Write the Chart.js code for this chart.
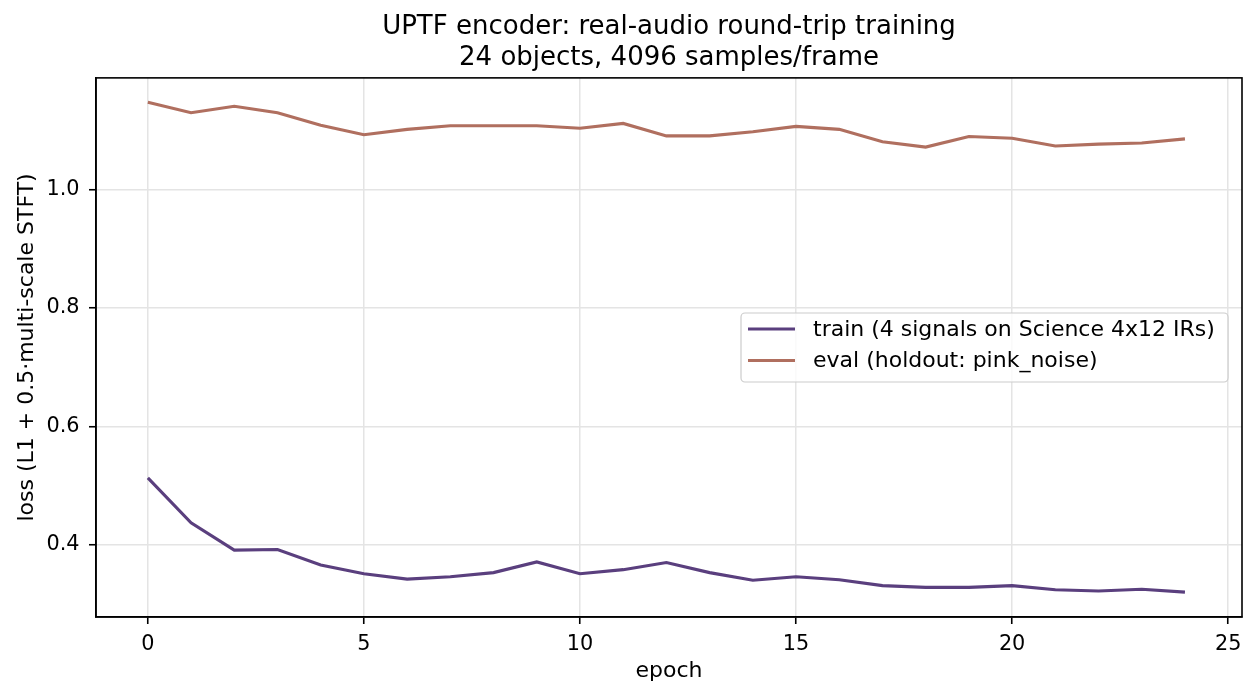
<!DOCTYPE html>
<html>
<head>
<meta charset="utf-8">
<script src="https://cdn.jsdelivr.net/npm/chart.js@4/dist/chart.umd.min.js"></script>
<style>
	html, body { margin: 0; padding: 0; background: #fff; }
	#wrap { width: 1260px; height: 697px; }
</style>
</head>
<body>
<div id="wrap"><canvas id="chart_loss"></canvas></div>
<script>
'use strict';

const epochs = [0, 1, 2, 3, 4, 5, 6, 7, 8, 9, 10, 11, 12, 13, 14, 15, 16, 17, 18, 19, 20, 21, 22, 23, 24];
const trainLoss = [0.513, 0.437, 0.391, 0.392, 0.366, 0.351, 0.342, 0.346, 0.353, 0.371, 0.351, 0.358, 0.370,
	0.353, 0.340, 0.346, 0.341, 0.331, 0.328, 0.328, 0.331, 0.324, 0.322, 0.325, 0.320];
const evalLoss = [1.148, 1.130, 1.141, 1.130, 1.109, 1.093, 1.102, 1.108, 1.108, 1.108, 1.104, 1.112, 1.091,
	1.091, 1.098, 1.107, 1.102, 1.081, 1.072, 1.090, 1.087, 1.074, 1.077, 1.079, 1.086];
const xTicks = [0, 5, 10, 15, 20, 25];
const yTicks = [0.4, 0.6, 0.8, 1.0];
const titleLines = ['UPTF encoder: real-audio round-trip training', '24 objects, 4096 samples/frame'];
const trainLabel = 'train (4 signals on Science 4x12 IRs)';
const evalLabel = 'eval (holdout: pink_noise)';

const COLORS = {
	train: '#5a3f7e',
	eval: '#b06f5f',
	grid: '#e4e4e4',
};
const FONT = 'DejaVu Sans';
const FS_TICK = 20.8;
const FS_LABEL = 22;

function toPoints(xs, ys) {
	return xs.map((x, i) => ({x: x, y: ys[i]}));
}

// frame on all four sides + legend box ('center right') inside the plot
const framePlugin = {
	id: 'frame',
	afterDraw(chart) {
		let ctx = chart.ctx,
			a = chart.chartArea;
		ctx.save();
		ctx.strokeStyle = '#000';
		ctx.lineWidth = 1.6;
		ctx.strokeRect(a.left, a.top, a.right - a.left, a.bottom - a.top);

		let w = 487, h = 69, r = 4,
			x0 = a.right - 14 - w,
			y0 = Math.round((a.top + a.bottom) / 2 - h / 2);
		ctx.beginPath();
		ctx.moveTo(x0 + r, y0);
		ctx.arcTo(x0 + w, y0, x0 + w, y0 + h, r);
		ctx.arcTo(x0 + w, y0 + h, x0, y0 + h, r);
		ctx.arcTo(x0, y0 + h, x0, y0, r);
		ctx.arcTo(x0, y0, x0 + w, y0, r);
		ctx.closePath();
		ctx.fillStyle = 'rgba(255,255,255,0.8)';
		ctx.fill();
		ctx.strokeStyle = '#cccccc';
		ctx.lineWidth = 1.2;
		ctx.stroke();

		ctx.font = FS_LABEL + 'px "' + FONT + '"';
		ctx.textBaseline = 'middle';
		ctx.fillStyle = '#000';
		chart.data.datasets.forEach((ds, i) => {
			let ly = y0 + 16 + i * 31.5;
			ctx.strokeStyle = ds.borderColor;
			ctx.lineWidth = 3;
			ctx.beginPath();
			ctx.moveTo(x0 + 7, ly);
			ctx.lineTo(x0 + 54, ly);
			ctx.stroke();
			ctx.fillText(ds.label, x0 + 72, ly + 1);
		});
		ctx.restore();
	},
};

const config = {
	type: 'line',
	data: {
		datasets: [{
			label: trainLabel,
			data: toPoints(epochs, trainLoss),
			borderColor: COLORS.train,
			backgroundColor: COLORS.train,
			borderWidth: 3.1,
			pointRadius: 0,
			tension: 0,
		}, {
			label: evalLabel,
			data: toPoints(epochs, evalLoss),
			borderColor: COLORS.eval,
			backgroundColor: COLORS.eval,
			borderWidth: 3.1,
			pointRadius: 0,
			tension: 0,
		}],
	},
	options: {
		responsive: true,
		maintainAspectRatio: false,
		animation: false,
		layout: {padding: {left: 0, right: 18, top: 0, bottom: 0}},
		plugins: {
			legend: {display: false},
			tooltip: {enabled: false},
			title: {
				display: true,
				fullSize: false,
				text: titleLines,
				color: '#000',
				font: {family: FONT, size: 26, weight: 'normal', lineHeight: 1.19},
				padding: {top: 11.5, bottom: 4.5},
			},
		},
		scales: {
			x: {
				type: 'linear',
				min: -1.2,
				max: 25.32,
				afterFit: scale => { scale.height = 80; },
				afterBuildTicks: scale => { scale.ticks = xTicks.map(v => ({value: v})); },
				ticks: {
					color: '#000',
					font: {family: FONT, size: FS_TICK},
					padding: 8,
					maxRotation: 0,
					callback: v => String(v),
				},
				grid: {color: COLORS.grid, tickColor: '#000', tickLength: 7, lineWidth: 1.5, tickWidth: 1.6},
				border: {color: '#000', width: 1.6},
				title: {
					display: true,
					text: 'epoch',
					color: '#000',
					font: {family: FONT, size: FS_LABEL, lineHeight: 1.2},
					padding: {top: 0, bottom: 13},
				},
			},
			y: {
				type: 'linear',
				min: 0.278,
				max: 1.189,
				afterFit: scale => { scale.width = 96; },
				afterBuildTicks: scale => { scale.ticks = yTicks.map(v => ({value: v})); },
				ticks: {
					color: '#000',
					font: {family: FONT, size: FS_TICK},
					padding: 9.5,
					callback: v => v.toFixed(1),
				},
				grid: {color: COLORS.grid, tickColor: '#000', tickLength: 7, lineWidth: 1.5, tickWidth: 1.6},
				border: {color: '#000', width: 1.6},
				title: {
					display: true,
					text: 'loss (L1 + 0.5·multi-scale STFT)',
					color: '#000',
					font: {family: FONT, size: FS_LABEL, lineHeight: 1.2},
					padding: {top: 14, bottom: 0},
				},
			},
		},
	},
	plugins: [framePlugin],
};

let ctx = document.getElementById('chart_loss').getContext('2d');
window.ChartLoss = new Chart(ctx, config);
</script>
</body>
</html>
